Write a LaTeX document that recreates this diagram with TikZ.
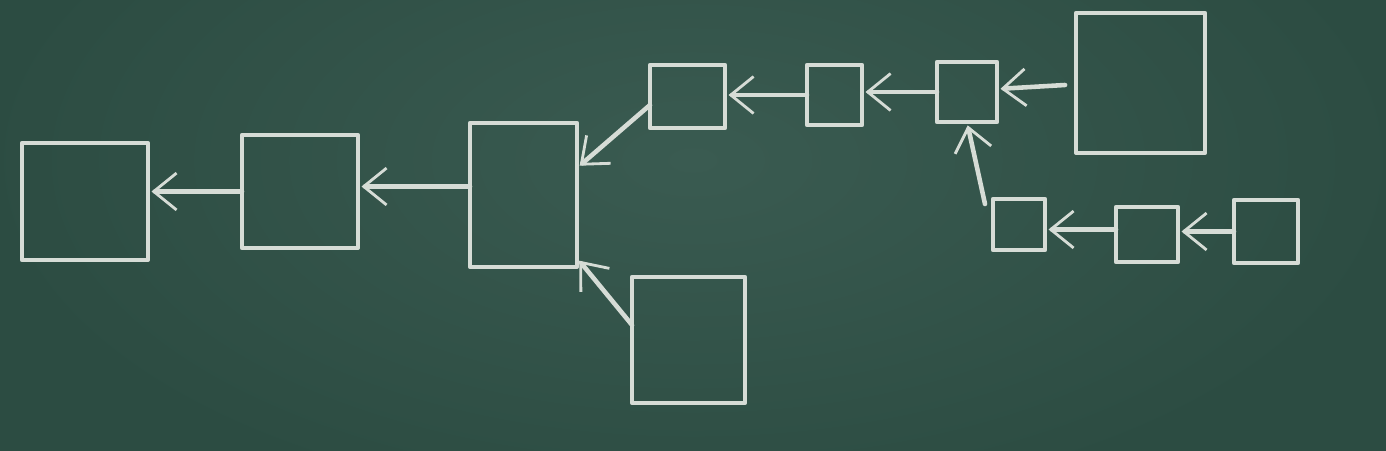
\documentclass[tikz,border=0pt]{standalone}
\usetikzlibrary{arrows.meta,calc}
\definecolor{board}{RGB}{44,76,66}
\definecolor{boardlight}{RGB}{58,91,81}
\definecolor{chalk}{RGB}{214,220,214}
\tikzset{
  chalkbox/.style={draw=chalk, line width=2.4pt, line join=round, minimum width=#1, inner sep=0pt, outer sep=0pt},
  chalkarrow/.style={draw=chalk, line width=2.6pt, line cap=round,
    -{Straight Barb[length=13pt,width=21pt,line width=1.6pt]}, shorten >=2pt, shorten <=0pt}
}
\begin{document}
\begin{tikzpicture}[x=0.02cm,y=-0.02cm]
\useasboundingbox (0,0) rectangle (1386,450);
\fill[board] (-20,-20) rectangle (1406,470);
\shade[inner color=boardlight, outer color=board] (-20,-200) rectangle (1406,520);
% boxes (centres in pixel units, sizes in cm = px*0.02)
\node[chalkbox=2.52cm, minimum height=2.34cm] (A) at (85,201.5) {};
\node[chalkbox=2.32cm, minimum height=2.26cm] (B) at (300,191.5) {};
\node[chalkbox=2.14cm, minimum height=2.88cm] (C) at (523.5,195) {};
\node[chalkbox=1.50cm, minimum height=1.26cm] (D) at (687.5,96.5) {};
\node[chalkbox=1.10cm, minimum height=1.20cm] (E) at (834.5,95) {};
\node[chalkbox=1.20cm, minimum height=1.20cm] (F) at (967,92) {};
\node[chalkbox=2.58cm, minimum height=2.80cm] (G) at (1140.5,83) {};
\node[chalkbox=2.26cm, minimum height=2.52cm] (H) at (688.5,340) {};
\node[chalkbox=1.04cm, minimum height=1.02cm] (I) at (1019,224.5) {};
\node[chalkbox=1.24cm, minimum height=1.10cm] (J) at (1147,234.5) {};
\node[chalkbox=1.28cm, minimum height=1.26cm] (K) at (1266,231.5) {};
% connectors
\draw[chalkarrow] (B.west) -- (B.west -| A.east);
\draw[chalkarrow] ([yshift=0.17cm]C.west) -- ([yshift=0.17cm]C.west -| B.east);
\draw[chalkarrow] ([yshift=-0.17cm]D.west) -- ([yshift=0.54cm]C.east);
\draw[chalkarrow] ([yshift=0.30cm]H.west) -- ([yshift=0.18cm]C.south east);
\draw[chalkarrow] (E.west) -- (E.west -| D.east);
\draw[chalkarrow] (F.west) -- (F.west -| E.east);
\draw[chalkarrow] ([xshift=-0.22cm,yshift=-0.04cm]G.west) -- ([yshift=0.06cm]F.east);
\draw[chalkarrow] ([xshift=-0.16cm,yshift=-0.1cm]I.north west) -- (F.south);
\draw[chalkarrow] ([yshift=0.1cm]J.west) -- ([yshift=0.1cm]J.west -| I.east);
\draw[chalkarrow] (K.west) -- (K.west -| J.east);
\end{tikzpicture}
\end{document}
